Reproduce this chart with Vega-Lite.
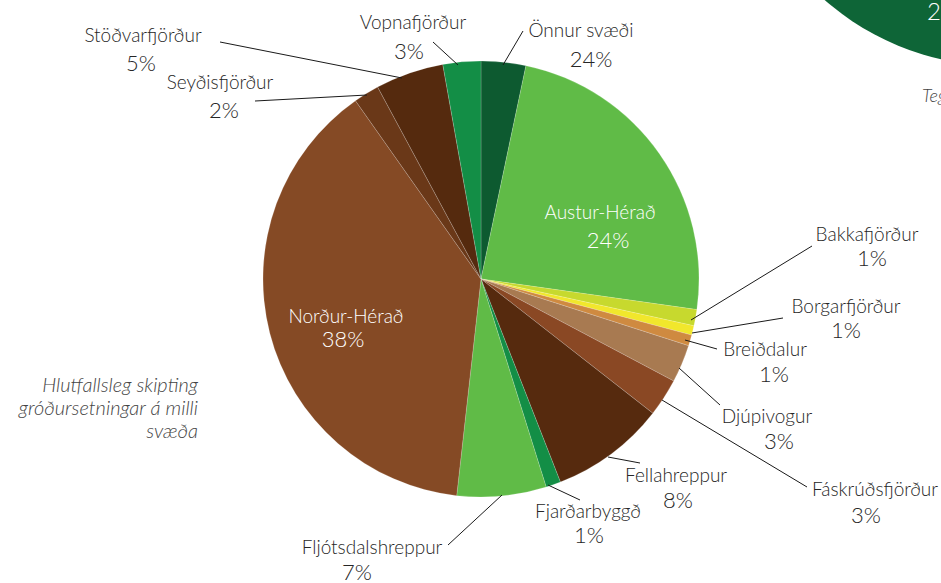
{
  "$schema": "https://vega.github.io/schema/vega-lite/v6.json",
  "width": 920,
  "height": 558,
  "autosize": {"type": "none"},
  "padding": {"left": 21, "top": 0, "right": 0, "bottom": 25},
  "background": "white",
  "config": {"view": {"stroke": null}},
  "datasets": {
    "slices": [
      {"i": 1, "region": "Önnur svæði", "share": 3.3},
      {"i": 2, "region": "Austur-Hérað", "share": 23.9},
      {"i": 3, "region": "Bakkafjörður", "share": 1.2},
      {"i": 4, "region": "Borgarfjörður", "share": 0.7},
      {"i": 5, "region": "Breiðdalur", "share": 0.8},
      {"i": 6, "region": "Djúpivogur", "share": 2.8},
      {"i": 7, "region": "Fáskrúðsfjörður", "share": 2.8},
      {"i": 8, "region": "Fellahreppur", "share": 8.5},
      {"i": 9, "region": "Fjarðarbyggð", "share": 1.1},
      {"i": 10, "region": "Fljótsdalshreppur", "share": 6.6},
      {"i": 11, "region": "Norður-Hérað", "share": 38.4},
      {"i": 12, "region": "Seyðisfjörður", "share": 1.9},
      {"i": 13, "region": "Stöðvarfjörður", "share": 5.05},
      {"i": 14, "region": "Vopnafjörður", "share": 2.8}
    ],
    "labels": [
      {"region": "Önnur svæði", "pct": "24%", "place": "outside", "nx": 581, "ny": 37, "px": 591, "py": 67, "x1": 523, "y1": 31, "x2": 503, "y2": 65},
      {"region": "Austur-Hérað", "pct": "24%", "place": "inside", "nx": 600, "ny": 219, "px": 608, "py": 248},
      {"region": "Bakkafjörður", "pct": "1%", "place": "outside", "nx": 867, "ny": 241, "px": 872, "py": 266, "x1": 812, "y1": 246, "x2": 691, "y2": 320},
      {"region": "Borgarfjörður", "pct": "1%", "place": "outside", "nx": 846, "ny": 313, "px": 846, "py": 338, "x1": 783, "y1": 318, "x2": 692, "y2": 333},
      {"region": "Breiðdalur", "pct": "1%", "place": "outside", "nx": 765, "ny": 356, "px": 774, "py": 382, "x1": 717, "y1": 349, "x2": 685, "y2": 340},
      {"region": "Djúpivogur", "pct": "3%", "place": "outside", "nx": 767, "ny": 423, "px": 779, "py": 449, "x1": 679, "y1": 368, "x2": 720, "y2": 405},
      {"region": "Fáskrúðsfjörður", "pct": "3%", "place": "outside", "nx": 875, "ny": 496, "px": 866, "py": 523, "x1": 662, "y1": 400, "x2": 807, "y2": 487},
      {"region": "Fellahreppur", "pct": "8%", "place": "outside", "nx": 676, "ny": 482, "px": 678, "py": 508, "x1": 608, "y1": 457, "x2": 640, "y2": 463},
      {"region": "Fjarðarbyggð", "pct": "1%", "place": "outside", "nx": 588, "ny": 518, "px": 589, "py": 543, "x1": 548, "y1": 485, "x2": 580, "y2": 500},
      {"region": "Fljótsdalshreppur", "pct": "7%", "place": "outside", "nx": 372, "ny": 554, "px": 357, "py": 580, "x1": 502, "y1": 495, "x2": 448, "y2": 545},
      {"region": "Norður-Hérað", "pct": "38%", "place": "inside", "nx": 346, "ny": 323, "px": 343, "py": 347},
      {"region": "Seyðisfjörður", "pct": "2%", "place": "outside", "nx": 220, "ny": 89, "px": 224, "py": 118, "x1": 255, "y1": 101, "x2": 367, "y2": 95},
      {"region": "Stöðvarfjörður", "pct": "5%", "place": "outside", "nx": 143, "ny": 42, "px": 141, "py": 71, "x1": 220, "y1": 42, "x2": 402, "y2": 78},
      {"region": "Vopnafjörður", "pct": "3%", "place": "outside", "nx": 413, "ny": 29, "px": 409, "py": 59, "x1": 433, "y1": 42, "x2": 458, "y2": 65}
    ]
  },
  "resolve": {"scale": {"color": "independent"}},
  "layer": [
    {
      "data": {"values": [{"x": 1000, "y": -200}]},
      "mark": {"type": "point", "shape": "circle", "filled": true, "opacity": 1, "color": "#0e6537", "size": 283000},
      "encoding": {
        "x": {"field": "x", "type": "quantitative", "scale": {"domain": [21, 941], "nice": false, "zero": false}, "axis": null},
        "y": {"field": "y", "type": "quantitative", "scale": {"domain": [0, 558], "nice": false, "zero": false, "reverse": true}, "axis": null}
      }
    },
    {
      "data": {"values": [{"t": "2", "x": 927, "y": 20}]},
      "mark": {"type": "text", "align": "left", "baseline": "alphabetic", "font": "Lato", "fontWeight": 300, "fontSize": 24, "color": "#ffffff"},
      "encoding": {
        "x": {"field": "x", "type": "quantitative"},
        "y": {"field": "y", "type": "quantitative"},
        "text": {"field": "t"}
      }
    },
    {
      "data": {"values": [{"t": "Tegundir", "x": 922, "y": 102}]},
      "mark": {"type": "text", "align": "left", "baseline": "alphabetic", "font": "Lato", "fontStyle": "italic", "fontWeight": 300, "fontSize": 18, "color": "#444444"},
      "encoding": {
        "x": {"field": "x", "type": "quantitative"},
        "y": {"field": "y", "type": "quantitative"},
        "text": {"field": "t"}
      }
    },
    {
      "data": {"values": [
        {"t": "Hlutfallsleg skipting", "x": 198, "y": 392},
        {"t": "gróðursetningar á milli", "x": 198, "y": 415},
        {"t": "svæða", "x": 198, "y": 438}
      ]},
      "mark": {"type": "text", "align": "right", "baseline": "alphabetic", "font": "Lato", "fontStyle": "italic", "fontWeight": 300, "fontSize": 20, "color": "#444444"},
      "encoding": {
        "x": {"field": "x", "type": "quantitative"},
        "y": {"field": "y", "type": "quantitative"},
        "text": {"field": "t"}
      }
    },
    {
      "data": {"name": "slices"},
      "mark": {"type": "arc", "outerRadius": 218, "stroke": "#ffffff", "strokeWidth": 0.5, "strokeOpacity": 0.35},
      "encoding": {
        "theta": {"field": "share", "type": "quantitative", "stack": true},
        "order": {"field": "i", "type": "quantitative"},
        "color": {
          "field": "region",
          "type": "nominal",
          "legend": null,
          "scale": {
            "domain": ["Önnur svæði", "Austur-Hérað", "Bakkafjörður", "Borgarfjörður", "Breiðdalur", "Djúpivogur", "Fáskrúðsfjörður", "Fellahreppur", "Fjarðarbyggð", "Fljótsdalshreppur", "Norður-Hérað", "Seyðisfjörður", "Stöðvarfjörður", "Vopnafjörður"],
            "range": ["#0d5a30", "#60bb47", "#c7d92e", "#f1e72c", "#cf8a40", "#a87a51", "#8a4824", "#562a0e", "#138e46", "#60bb47", "#854a25", "#6a3818", "#552a0e", "#138e46"]
          }
        }
      }
    },
    {
      "data": {"name": "labels"},
      "transform": [{"filter": "datum.x1 != null"}],
      "mark": {"type": "rule", "color": "#1a1a1a", "strokeWidth": 1},
      "encoding": {
        "x": {"field": "x1", "type": "quantitative"},
        "y": {"field": "y1", "type": "quantitative"},
        "x2": {"field": "x2"},
        "y2": {"field": "y2"}
      }
    },
    {
      "data": {"name": "labels"},
      "mark": {"type": "text", "align": "center", "baseline": "alphabetic", "font": "Lato", "fontWeight": 300, "fontSize": 19},
      "encoding": {
        "x": {"field": "nx", "type": "quantitative"},
        "y": {"field": "ny", "type": "quantitative"},
        "text": {"field": "region"},
        "color": {"field": "place", "type": "nominal", "legend": null, "scale": {"domain": ["outside", "inside"], "range": ["#262626", "#ffffff"]}}
      }
    },
    {
      "data": {"name": "labels"},
      "mark": {"type": "text", "align": "center", "baseline": "alphabetic", "font": "Lato", "fontWeight": 300, "fontSize": 22},
      "encoding": {
        "x": {"field": "px", "type": "quantitative"},
        "y": {"field": "py", "type": "quantitative"},
        "text": {"field": "pct"},
        "color": {"field": "place", "type": "nominal", "legend": null, "scale": {"domain": ["outside", "inside"], "range": ["#262626", "#ffffff"]}}
      }
    }
  ]
}
